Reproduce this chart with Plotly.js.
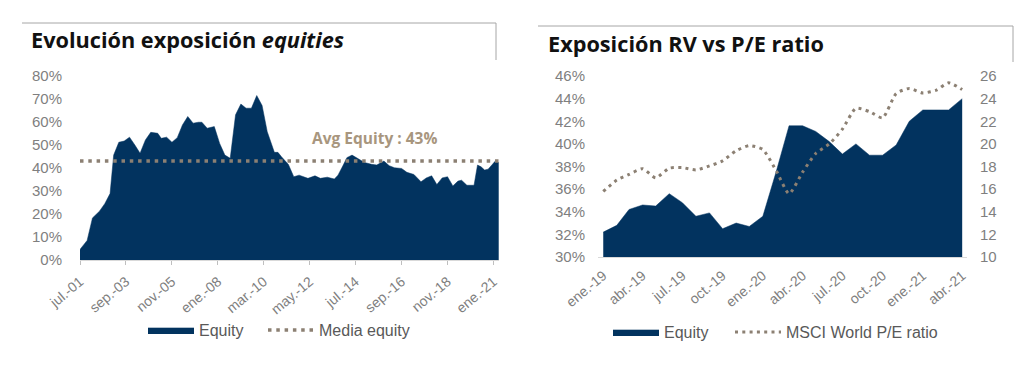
<!DOCTYPE html>
<html><head><meta charset="utf-8">
<script src="https://cdn.plot.ly/plotly-3.0.1.min.js"></script>
<style>
html,body{margin:0;padding:0;background:#fff;}
#left,#right{position:absolute;top:0;width:512px;height:370px;}
#left{left:0}#right{left:512px}
</style>
</head><body>
<div id="left"></div><div id="right"></div>
<script>
// ---------- Left chart data ----------
const equityDates = ['2001-07-01','2001-11-01','2002-02-01','2002-06-01','2002-09-01','2002-12-01','2003-02-01','2003-05-01','2003-08-01','2003-11-01',
'2004-02-01','2004-05-01','2004-08-01','2004-11-01','2005-03-01','2005-05-01','2005-08-01','2005-11-01','2006-02-01','2006-05-01',
'2006-08-01','2006-11-01','2007-02-01','2007-04-01','2007-07-01','2007-11-01','2008-02-01','2008-05-01','2008-08-01','2008-11-01',
'2009-02-01','2009-05-01','2009-08-01','2009-11-01','2010-02-01','2010-05-01','2010-09-01','2010-11-01','2011-01-01','2011-05-01',
'2011-08-01','2011-11-01','2012-04-01','2012-08-01','2012-11-01','2013-03-01','2013-07-01','2013-09-01','2013-12-01','2014-02-01',
'2014-05-01','2014-08-01','2014-12-01','2015-04-01','2015-07-01','2015-11-01','2016-02-01','2016-05-01','2016-09-01','2016-12-01',
'2017-04-01','2017-08-01','2017-11-01','2018-02-01','2018-05-01','2018-08-01','2018-11-01','2019-02-01','2019-05-01','2019-07-01',
'2019-10-01','2020-02-01','2020-04-01','2020-06-01','2020-08-01','2020-10-01','2020-12-01','2021-02-01','2021-04-01'];
const equityValues = [4.6,8.5,18.3,21.2,24.5,28.9,45.6,51.2,51.7,53.4,
50.0,46.4,52.2,55.5,55.1,52.9,53.4,51.2,53.2,58.7,
62.4,59.5,59.9,59.9,57.3,58.0,50.7,45.6,44.2,63.1,
67.8,66.0,66.0,71.5,67.2,55.8,46.8,46.8,44.9,41.5,
36.2,36.9,35.5,36.6,35.5,36.0,35.2,36.9,41.3,44.5,
45.6,44.2,42.4,41.6,41.3,43.0,41.0,40.1,39.8,38.1,
37.2,34.0,35.7,36.6,32.8,35.7,36.2,32.2,34.3,34.7,
32.5,32.5,41.3,40.5,39.1,39.5,41.3,43.0,42.4];
const avgEquity = 43;
const leftTickDates = ['2001-07-01','2003-09-01','2005-11-01','2008-01-01','2010-03-01','2012-05-01','2014-07-01','2016-09-01','2018-11-01','2021-01-01'];
const leftTickLabels = ['jul.-01','sep.-03','nov.-05','ene.-08','mar.-10','may.-12','jul.-14','sep.-16','nov.-18','ene.-21'];

// ---------- Right chart data ----------
const rvMonths = ['2019-01-01','2019-02-01','2019-03-01','2019-04-01','2019-05-01','2019-06-01','2019-07-01','2019-08-01','2019-09-01','2019-10-01',
'2019-11-01','2019-12-01','2020-01-01','2020-02-01','2020-03-01','2020-04-01','2020-05-01','2020-06-01','2020-07-01','2020-08-01',
'2020-09-01','2020-10-01','2020-11-01','2020-12-01','2021-01-01','2021-02-01','2021-03-01','2021-04-01'];
const rvEquity = [32.2,32.8,34.2,34.6,34.5,35.6,34.8,33.6,33.9,32.5,33.0,32.7,33.6,37.6,41.6,41.6,41.1,40.2,39.1,40.0,39.0,39.0,39.9,42.0,43.0,43.0,43.0,44.0];
const peRatio = [15.8,16.8,17.3,17.8,17.0,17.85,17.9,17.7,18.05,18.5,19.4,19.85,19.5,17.6,15.6,17.5,19.15,20.0,21.3,23.15,22.85,22.3,24.45,24.9,24.5,24.75,25.4,24.8];
const rightTickDates = ['2019-01-01','2019-04-01','2019-07-01','2019-10-01','2020-01-01','2020-04-01','2020-07-01','2020-10-01','2021-01-01','2021-04-01'];
const rightTickLabels = ['ene.-19','abr.-19','jul.-19','oct.-19','ene.-20','abr.-20','jul.-20','oct.-20','ene.-21','abr.-21'];

// ---------- Styles ----------
const NAVY = '#02335f';
const DOTS = '#8c8073';
const TICKC = '#7f7f7f';
const LEGC = '#595959';
const BOXC = '#a6a6a6';
const SANS = '"Liberation Sans", Arial, sans-serif';
const TITLEF = '"Open Sans", "Noto Sans", sans-serif';
const W = 512, H = 370;

function mkPx(m) {
  const pw = W - m.l - m.r, ph = H - m.t - m.b;
  return {
    x: px => (px - m.l) / pw,
    y: py => (H - m.b - py) / ph
  };
}
function boxShapes(P, x0, x1, yTop, yBot) {
  return [
    {type:'line', xref:'paper', yref:'paper', x0:P.x(x0), x1:P.x(x1), y0:P.y(yTop), y1:P.y(yTop), line:{color:BOXC, width:1}},
    {type:'line', xref:'paper', yref:'paper', x0:P.x(x1), x1:P.x(x1), y0:P.y(yTop), y1:P.y(yBot), line:{color:BOXC, width:1}}
  ];
}
function legendAt(xPaper, yPaper) {
  return {orientation:'h', x:xPaper, xanchor:'left', y:yPaper, yanchor:'middle', itemwidth:46,
          font:{family:SANS, size:16, color:LEGC}, bgcolor:'rgba(0,0,0,0)'};
}

// ---------- Left chart ----------
const mL = {l:80, r:13, t:76, b:110};
const PL = mkPx(mL);
Plotly.newPlot('left', [
  {x: equityDates, y: equityValues, type:'scatter', mode:'lines', name:'Equity', legend:'legend',
   fill:'tozeroy', fillcolor:NAVY, line:{color:NAVY, width:0.5}, hoverinfo:'skip'},
  {x: [equityDates[0], equityDates[equityDates.length-1]], y: [avgEquity, avgEquity], type:'scatter', mode:'lines',
   name:'Media equity', legend:'legend2', line:{color:DOTS, width:3.5, dash:'3.5px,4.8px'}, hoverinfo:'skip'}
], {
  width: W, height: H, margin: mL,
  paper_bgcolor:'#fff', plot_bgcolor:'#fff',
  title: {text:'Evolución exposición <i>equities</i>', xref:'container', yref:'container',
          x: 31/W, xanchor:'left', y: 1 - 40/H, yanchor:'middle',
          font:{family:TITLEF, size:21.7, color:'#111', weight:700}},
  xaxis: {type:'date', range:['2001-07-01','2021-04-06'], tickvals:leftTickDates, ticktext:leftTickLabels,
          tickangle:-40, tickfont:{family:SANS, size:14, color:TICKC}, ticklabelstandoff:3,
          ticks:'outside', ticklen:4, tickcolor:'#bfbfbf', showline:true, linecolor:'#d9d9d9', linewidth:1,
          showgrid:false, zeroline:false, fixedrange:true},
  yaxis: {range:[0,80], dtick:10, ticksuffix:'%', tickfont:{family:SANS, size:15, color:TICKC},
          showgrid:false, zeroline:false, showline:false, ticks:'', ticklabelstandoff:17, fixedrange:true},
  showlegend:true,
  legend: legendAt(PL.x(143), PL.y(330)),
  legend2: legendAt(PL.x(263), PL.y(330)),
  annotations: [
    {text:'Avg Equity : ' + avgEquity + '%', xref:'paper', yref:'paper', x:PL.x(374), y:PL.y(138),
     xanchor:'center', yanchor:'middle', showarrow:false,
     font:{family:TITLEF, size:15.5, color:'#a8967e', weight:700}}
  ],
  shapes: boxShapes(PL, 22, 496, 23, 60)
}, {staticPlot:true});

// ---------- Right chart ----------
const mR = {l:86, r:57, t:76, b:113};
const PR = mkPx(mR);
Plotly.newPlot('right', [
  {x: rvMonths, y: rvEquity, type:'scatter', mode:'lines', name:'Equity', legend:'legend',
   fill:'tozeroy', fillcolor:NAVY, line:{color:NAVY, width:0.5}, hoverinfo:'skip'},
  {x: rvMonths, y: peRatio, type:'scatter', mode:'lines', name:'MSCI World P/E ratio', yaxis:'y2', legend:'legend2',
   line:{color:DOTS, width:3, dash:'3px,4.3px', shape:'spline', smoothing:0.6}, hoverinfo:'skip'}
], {
  width: W, height: H, margin: mR,
  paper_bgcolor:'#fff', plot_bgcolor:'#fff',
  title: {text:'Exposición RV vs P/E ratio', xref:'container', yref:'container',
          x: 36/W, xanchor:'left', y: 1 - 44/H, yanchor:'middle',
          font:{family:TITLEF, size:21.7, color:'#111', weight:700}},
  xaxis: {type:'date', range:['2018-12-20','2021-04-12'], tickvals:rightTickDates, ticktext:rightTickLabels,
          tickangle:-40, tickfont:{family:SANS, size:14, color:TICKC}, ticklabelstandoff:4,
          ticks:'', showline:true, linecolor:'#d9d9d9', linewidth:1,
          showgrid:false, zeroline:false, fixedrange:true},
  yaxis: {range:[30,46], dtick:2, ticksuffix:'%', tickfont:{family:SANS, size:15, color:TICKC},
          showgrid:false, zeroline:false, showline:false, ticks:'', ticklabelstandoff:12, fixedrange:true},
  yaxis2: {range:[10,26], dtick:2, overlaying:'y', side:'right', tickfont:{family:SANS, size:15, color:TICKC},
          showgrid:false, zeroline:false, showline:false, ticks:'', ticklabelstandoff:12, fixedrange:true},
  showlegend:true,
  legend: legendAt(PR.x(96), PR.y(332)),
  legend2: legendAt(PR.x(218), PR.y(332)),
  shapes: boxShapes(PR, 26, 501, 26, 62)
}, {staticPlot:true});
</script>
</body></html>
